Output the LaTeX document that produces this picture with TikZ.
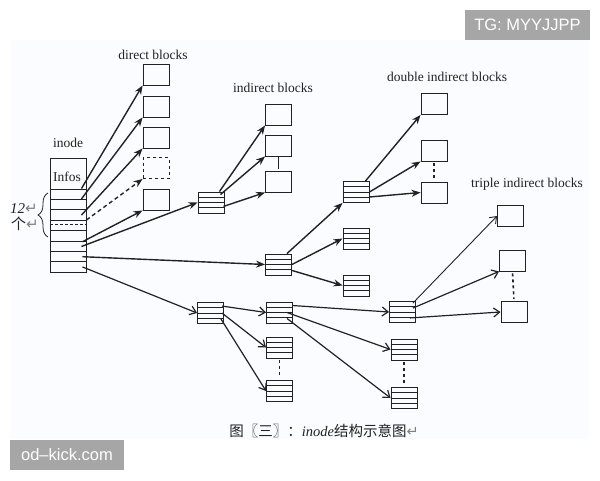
\documentclass[tikz,border=0pt]{standalone}
\usepackage{fontspec}
\setmainfont{Liberation Serif}
\newfontfamily\cjk{Noto Sans CJK SC}
\newfontfamily\wmark{Liberation Sans}
\newfontfamily\symb{DejaVu Sans}
\usetikzlibrary{positioning}
\usetikzlibrary{arrows.meta}
\usetikzlibrary{decorations.pathreplacing}
\definecolor{panel}{HTML}{FBFCFF}
\definecolor{wmgrey}{HTML}{A6A6A6}
\definecolor{ink}{HTML}{222222}
\newcommand{\RET}{{\symb\color{gray}\char"21B5}}

\begin{document}
\begin{tikzpicture}[
    x = 1pt, y = -1pt, >={Stealth[length = 9pt, width = 7pt]},
    block/.style = {shape = rectangle, draw = ink, line width = 0.9pt, minimum width = 26pt, minimum height = 21pt, inner sep = 0},
    dashblock/.style = {block, dashed},
    tab/.style = {block, path picture = {
        \draw[ink, line width = 0.9pt] ([yshift = 5.25pt]path picture bounding box.west) -- ([yshift = 5.25pt]path picture bounding box.east);
        \draw[ink, line width = 0.9pt] (path picture bounding box.west) -- (path picture bounding box.east);
        \draw[ink, line width = 0.9pt] ([yshift = -5.25pt]path picture bounding box.west) -- ([yshift = -5.25pt]path picture bounding box.east);}},
    row/.style = {block, minimum width = 36pt, minimum height = 10.4pt},
    dotrow/.style = {row, path picture = {
        \draw[ink, line width = 0.9pt, dash pattern = on 2.5pt off 2.5pt] ([yshift = 1.6pt]path picture bounding box.west) -- ([yshift = 1.6pt]path picture bounding box.east);}},
    ptr/.style = {->, ink, line width = 1.4pt},
    dashptr/.style = {ptr, dash pattern = on 4pt off 3pt},
    thinptr/.style = {ink, line width = 1.2pt, -{Straight Barb[length = 6pt, width = 9pt]}},
    link/.style = {ink, line width = 1.6pt, dash pattern = on 3pt off 3pt, shorten < = 2pt, shorten > = 2pt},
    caption/.style = {ink, font = \fontsize{13.5}{15}\selectfont, inner sep = 0},
    wm/.style = {fill = wmgrey, text = white, font = \wmark\fontsize{16.5}{18}\selectfont, inner sep = 0},
    ]
    \useasboundingbox (0,0) rectangle (600,480);
    \fill[panel] (10,40) rectangle (589,439);

    % watermarks
    \node[wm, minimum width = 125pt, minimum height = 30pt] (tg) at (527.5,25) {TG: MYYJJPP};
    \node[wm, minimum width = 114pt, minimum height = 30pt] (od) at (67,455) {od–kick.com};

    % inode
    \node[caption] (inodelabel) at (68,143) {inode};
    \node[block, minimum width = 36pt, minimum height = 31pt] (infos) at (68,173.5) {};
    \node[caption] (infostext) at (67,177) {Infos};
    \node[row] (i1) at (68,194.2) {};
    \node[row] (i2) at (68,204.6) {};
    \node[row] (i3) at (68,215.1) {};
    \node[dotrow] (i4) at (68,225.6) {};
    \node[row] (i5) at (68,236.1) {};
    \node[row] (i6) at (68,246.5) {};
    \node[row] (i7) at (68,256.7) {};
    \node[row] (i8) at (68,266.9) {};
    \coordinate (bracelow) at (48,237);
    \coordinate (bracehigh) at (48,193);
    \draw[ink, line width = 0.8pt, decorate, decoration = {brace, amplitude = 10pt}] (bracelow) -- (bracehigh);
    \node[ink, font = \fontsize{15}{17}\selectfont\itshape] (twelve) at (24,209) {12\RET};
    \node[ink, font = \cjk\fontsize{15}{17}\selectfont] (ge) at (25,224) {个\RET};

    % direct blocks
    \node[caption] (directlabel) at (153,55) {direct blocks};
    \node[block] (b1) at (156,74.5) {};
    \node[block] (b2) at (156,106.5) {};
    \node[block] (b3) at (156,137.5) {};
    \node[dashblock] (b4) at (156,168) {};
    \node[block] (b5) at (156,199.5) {};
    \path[ptr] ([xshift = -5pt]i1.north east) edge (b1.south west);
    \path[ptr] ([xshift = -5pt]i2.north east) edge (b2.south west);
    \path[ptr] ([xshift = -5pt]i3.east) edge (b3.south west);
    \path[dashptr] (i4.north east) edge (b4.south west);
    \path[ptr] ([xshift = -4pt]i5.south east) edge (b5.south west);

    % indirect blocks
    \node[caption] (indirectlabel) at (273,88) {indirect blocks};
    \node[tab] (s1) at (211,202.5) {};
    \node[block] (c1) at (278.5,114.5) {};
    \node[block] (c2) at (278.5,145.5) {};
    \node[block] (c3) at (278.5,181.5) {};
    \path[ptr] ([xshift = -5pt]i6.east) edge (s1.west);
    \path[ptr] ([xshift = -5pt]s1.north east) edge (c1.south west);
    \path[ptr] ([xshift = -4pt, yshift = -3pt]s1.north east) edge (c2.south west);
    \path[ptr] ([xshift = -1pt, yshift = 7pt]s1.south east) edge (c3.south west);
    \draw[ink, line width = 1.6pt, shorten > = 2pt] (c2.south) -- (c3.north);

    % double indirect blocks
    \node[caption] (doublelabel) at (447,77) {double indirect blocks};
    \node[tab] (s2) at (278.5,264.5) {};
    \node[tab] (d1) at (356,192) {};
    \node[tab] (d2) at (356,238.5) {};
    \node[tab] (d3) at (356,285.5) {};
    \node[block] (e1) at (434,104) {};
    \node[block] (e2) at (434,150.5) {};
    \node[block] (e3) at (434,192.5) {};
    \path[ptr] ([xshift = -4pt]i7.east) edge (s2.west);
    \path[ptr] ([xshift = -5pt]s2.north east) edge (d1.south west);
    \path[ptr] (s2.east) edge (d2.west);
    \path[ptr] ([yshift = 5pt]s2.south east) edge (d3.west);
    \path[ptr] ([xshift = -4pt]d1.north east) edge (e1.south west);
    \path[ptr] (d1.east) edge (e2.south west);
    \path[ptr] ([yshift = -5pt]d1.east) edge (e3.west);
    \draw[link] (e2.south) -- (e3.north);

    % triple indirect blocks
    \node[caption] (triplelabel) at (527,184) {triple indirect blocks};
    \node[tab] (a1) at (210.5,313) {};
    \node[tab] (a2) at (279.5,312.5) {};
    \node[tab] (a3) at (279.5,347.5) {};
    \node[tab] (a4) at (279.5,391) {};
    \node[tab] (t1) at (402.5,312) {};
    \node[tab] (t2) at (404,349.5) {};
    \node[tab] (t3) at (404,398) {};
    \node[block] (f1) at (510.5,216) {};
    \node[block] (f2) at (512.5,260.5) {};
    \node[block] (f3) at (514,312) {};
    \path[thinptr] ([xshift = -4pt]i8.east) edge (a1.west);
    \path[thinptr] ([xshift = -2pt, yshift = -4pt]a1.north east) edge (a2.west);
    \path[thinptr] ([xshift = -2pt]a1.east) edge (a3.west);
    \path[thinptr] ([xshift = -3pt, yshift = 5pt]a1.south east) edge (a4.west);
    \path[thinptr] ([yshift = -4pt]a2.north east) edge (t1.west);
    \path[thinptr] ([xshift = -6pt]a2.east) edge (t2.west);
    \path[thinptr] ([xshift = -6pt, yshift = 5pt]a2.south east) edge (t3.west);
    \path[thinptr, line width = 0.9pt] ([xshift = -3pt, yshift = -2pt]t1.north east) edge (f1.west);
    \path[thinptr] ([xshift = -3pt, yshift = -7pt]t1.north east) edge (f2.south west);
    \path[thinptr] ([xshift = -6pt, yshift = 5pt]t1.south east) edge (f3.west);
    \draw[link] (a3.south) -- (a4.north);
    \draw[link] (t2.south) -- (t3.north);
    \draw[link] (f2.south) -- (f3.north);

    \node[ink, font = \cjk\fontsize{14.5}{16}\selectfont, inner sep = 0] (figcaption) at (324,431) {图〖三〗：{\fontspec{Liberation Serif}\itshape inode}结构示意图\RET};
\end{tikzpicture}
\end{document}
